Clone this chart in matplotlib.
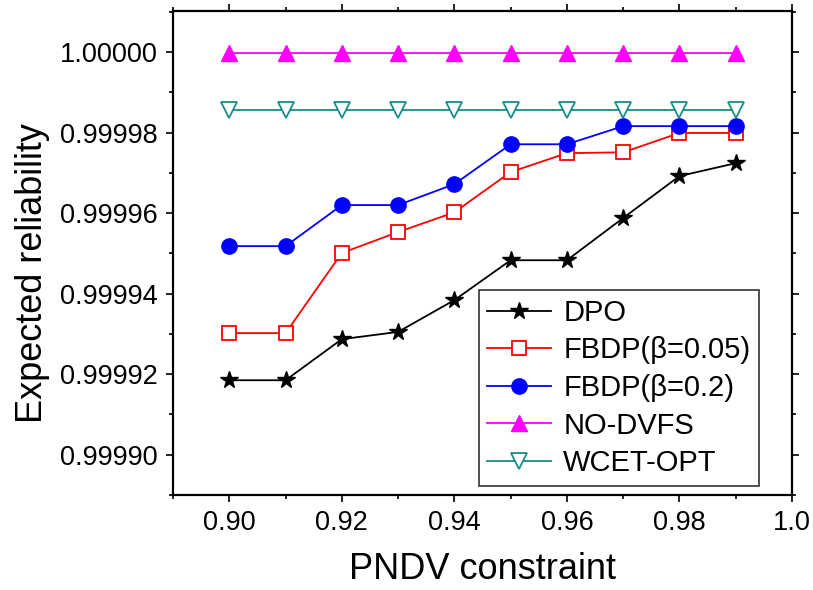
import matplotlib
matplotlib.use("Agg")
import matplotlib.pyplot as plt
from matplotlib.ticker import MultipleLocator, FormatStrFormatter, FixedLocator, FixedFormatter

plt.rcParams['font.family'] = ['Liberation Sans', 'DejaVu Sans']

pndv = [0.90, 0.91, 0.92, 0.93, 0.94, 0.95, 0.96, 0.97, 0.98, 0.99]

dpo = [0.9999185, 0.9999185, 0.9999287, 0.9999305, 0.9999384,
       0.9999483, 0.9999483, 0.9999588, 0.9999692, 0.9999724]
fbdp_005 = [0.9999302, 0.9999302, 0.9999501, 0.9999553, 0.9999602,
            0.9999702, 0.9999749, 0.9999751, 0.9999799, 0.9999799]
fbdp_02 = [0.9999518, 0.9999518, 0.9999620, 0.9999620, 0.9999672,
           0.9999771, 0.9999771, 0.9999816, 0.9999816, 0.9999816]
no_dvfs = [0.9999998] * 10
wcet_opt = [0.9999856] * 10

labels = ['DPO', 'FBDP(\u03b2=0.05)', 'FBDP(\u03b2=0.2)', 'NO-DVFS', 'WCET-OPT']
xtick_vals = [0.90, 0.92, 0.94, 0.96, 0.98, 1.00]
xtick_text = ['0.90', '0.92', '0.94', '0.96', '0.98', '1.0']

fig = plt.figure(figsize=(8.13, 5.90), dpi=100)
ax = fig.add_axes([0.2128, 0.161, 0.7614, 0.8204])

ax.plot(pndv, dpo, color='black', lw=1.3, marker='*', ms=13, label=labels[0])
ax.plot(pndv, fbdp_005, color='red', lw=1.3, marker='s', ms=10,
        mfc='white', mec='red', mew=1.3, label=labels[1])
ax.plot(pndv, fbdp_02, color='blue', lw=1.3, marker='o', ms=11, label=labels[2])
ax.plot(pndv, no_dvfs, color='magenta', lw=1.3, marker='^', ms=11, label=labels[3])
ax.plot(pndv, wcet_opt, color='#1a8c85', lw=1.3, marker='v', ms=11,
        mfc='white', mec='#1a8c85', mew=1.3, label=labels[4])

ax.set_xlim(0.89, 1.0)
ax.set_ylim(0.99989, 1.0000102)

ax.xaxis.set_major_locator(FixedLocator(xtick_vals))
ax.xaxis.set_major_formatter(FixedFormatter(xtick_text))
ax.xaxis.set_minor_locator(MultipleLocator(0.01))
ax.yaxis.set_major_locator(MultipleLocator(0.00002))
ax.yaxis.set_minor_locator(MultipleLocator(0.00001))
ax.yaxis.set_major_formatter(FormatStrFormatter('%.5f'))

ax.tick_params(which='both', labelsize=19.5, top=True, right=True, width=1.2)
ax.tick_params(which='major', length=5, pad=6)
ax.tick_params(which='minor', length=3)
for sp in ax.spines.values():
    sp.set_linewidth(1.6)

ax.set_xlabel('PNDV constraint', fontsize=26, labelpad=11)
ax.set_ylabel('Expected reliability', fontsize=26)
ax.yaxis.set_label_coords(-0.199, 0.459)

leg = ax.legend(loc='lower right', bbox_to_anchor=(0.9467, 0.0186), fontsize=21,
                frameon=True, fancybox=False, edgecolor='black',
                handlelength=2.2, handletextpad=0.4, borderpad=0.3,
                labelspacing=0.33, borderaxespad=0.0)
leg.get_frame().set_linewidth(1.2)

fig.savefig('out.png', dpi=100)
